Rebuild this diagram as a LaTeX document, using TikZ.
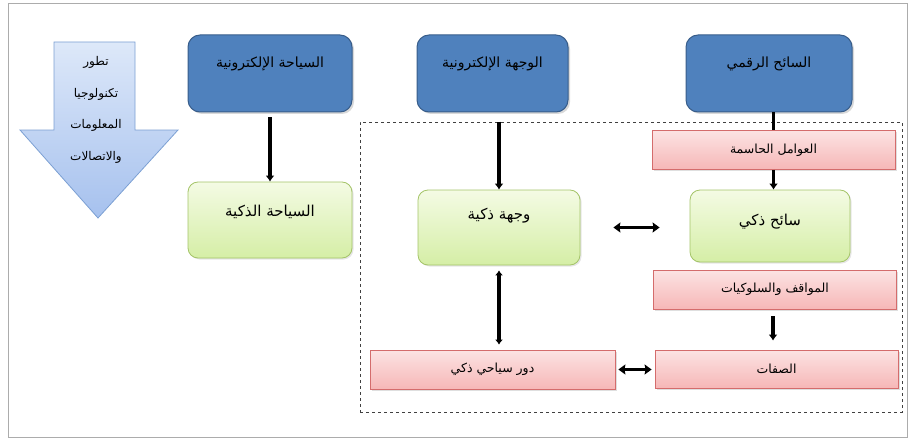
\documentclass[tikz,border=0pt]{standalone}
\usepackage{fontspec}
\newfontfamily\arabicfont[Script=Arabic]{DejaVu Sans}
\TeXXeTstate=1
\usetikzlibrary{arrows.meta,shadows}
\definecolor{bluefill}{HTML}{4F81BD}
\definecolor{blueborder}{HTML}{385D8A}
\definecolor{arrtop}{HTML}{DDE8F9}
\definecolor{arrbot}{HTML}{A6C1EE}
\definecolor{arrborder}{HTML}{7CA0D3}
\definecolor{greentop}{HTML}{F4FBE4}
\definecolor{greenbot}{HTML}{D5EEA6}
\definecolor{greenborder}{HTML}{A4C468}
\definecolor{pinktop}{HTML}{FCE3E3}
\definecolor{pinkbot}{HTML}{F6B7B7}
\definecolor{pinkborder}{HTML}{D46C6C}
\tikzset{
  bluelabel/.style={font=\arabicfont\fontsize{14}{16}\selectfont, text=black},
  greenlabel/.style={font=\arabicfont\fontsize{15}{17}\selectfont, text=black},
  bluebox/.style={draw=blueborder, fill=bluefill, rounded corners=12pt, line width=1pt,
    drop shadow={shadow xshift=2pt, shadow yshift=-2pt, opacity=0.3}},
  greenbox/.style={draw=greenborder, top color=greentop, bottom color=greenbot,
    rounded corners=10pt, line width=0.8pt,
    drop shadow={shadow xshift=1.5pt, shadow yshift=-1.5pt, opacity=0.2}},
  pinkbox/.style={draw=pinkborder, top color=pinktop, bottom color=pinkbot,
    line width=0.8pt, font=\arabicfont\fontsize{12.5}{14}\selectfont, text=black,
    drop shadow={shadow xshift=1.5pt, shadow yshift=-1.5pt, opacity=0.25}},
  thickarrow/.style={line width=3.4pt, -{Latex[length=6pt,width=9pt]}},
  thickdouble/.style={line width=3.4pt, {Latex[length=5pt,width=8pt]}-{Latex[length=5pt,width=8pt]}},
  thindouble/.style={line width=2.2pt, {Stealth[length=7pt,width=10pt,inset=1pt]}-{Stealth[length=7pt,width=10pt,inset=1pt]}},
}
\begin{document}
\begin{tikzpicture}[x=1pt,y=-1pt]
\useasboundingbox (0,0) rectangle (912,441);
% outer frame
\draw[draw=gray!65, line width=0.8pt] (8,3) rectangle (907,437);

% big down arrow
\draw[draw=arrborder, line width=0.8pt, top color=arrtop, bottom color=arrbot]
  (54,42) -- (135,42) -- (135,130) -- (178,130) -- (98,218) -- (20,130) -- (54,130) -- cycle;
\node[font=\arabicfont\fontsize{12}{31.5}\selectfont, align=center] (dev) at (96,110)
  {\beginR تطور\endR\\\beginR تكنولوجيا\endR\\\beginR المعلومات\endR\\\beginR والاتصالات\endR};

% dashed frame
\node[draw=black!75, dashed, line width=0.8pt, minimum width=542pt, minimum height=290pt,
  inner sep=0pt] (frame) at (631,267) {};

% blue boxes
\node[bluebox, minimum width=164pt, minimum height=77pt,
  label={[bluelabel, yshift=10pt]center:\beginR السياحة الإلكترونية\endR}] (etour) at (270,73.5) {};
\node[bluebox, minimum width=151pt, minimum height=77pt,
  label={[bluelabel, yshift=10pt]center:\beginR الوجهة الإلكترونية\endR}] (edest) at (492.5,73.5) {};
\node[bluebox, minimum width=166pt, minimum height=77pt,
  label={[bluelabel, yshift=10pt]center:\beginR السائح الرقمي\endR}] (dtour) at (769,73.5) {};

% green boxes
\node[greenbox, minimum width=164pt, minimum height=76pt,
  label={[greenlabel, yshift=8pt]center:\beginR السياحة الذكية\endR}] (smtour) at (270,220) {};
\node[greenbox, minimum width=162pt, minimum height=75pt,
  label={[greenlabel, yshift=12pt]center:\beginR وجهة ذكية\endR}] (smdest) at (499,227.5) {};
\node[greenbox, minimum width=160pt, minimum height=72pt,
  label={[greenlabel, yshift=4pt]center:\beginR سائح ذكي\endR}] (smtourist) at (770,226) {};

% pink boxes
\node[pinkbox, minimum width=243pt, minimum height=39pt] (factors) at (773.5,150)
  {\beginR العوامل الحاسمة\endR};
\node[pinkbox, minimum width=243pt, minimum height=39pt] (attitudes) at (775,289.5)
  {\beginR المواقف والسلوكيات\endR};
\node[pinkbox, minimum width=243pt, minimum height=38pt] (traits) at (776.5,369)
  {\beginR الصفات\endR};
\node[pinkbox, minimum width=245pt, minimum height=39pt] (role) at (492.5,369.5)
  {\beginR دور سياحي ذكي\endR};

% connectors
\draw[thickarrow, shorten <=5pt] (etour.south) -- (smtour.north);
\draw[thickarrow] (smdest.north |- frame.north) -- (smdest.north);
\draw[line width=3.4pt] (dtour.south -| factors.north) -- (factors.north);
\draw[thickarrow] (factors.south) -- (factors.south |- smtourist.north);
\draw[thindouble, shorten <=33pt, shorten >=30pt] (smdest.east) -- (smtourist.west |- smdest.east);
\draw[thickdouble, shorten <=5pt, shorten >=5pt] (smdest.south) -- (smdest.south |- role.north);
\draw[thickarrow, shorten <=7pt, shorten >=9pt] (attitudes.south -| 773,0) -- (traits.north -| 773,0);
\draw[thindouble, shorten <=3pt, shorten >=3pt] (role.east) -- (traits.west |- role.east);
\end{tikzpicture}
\end{document}
